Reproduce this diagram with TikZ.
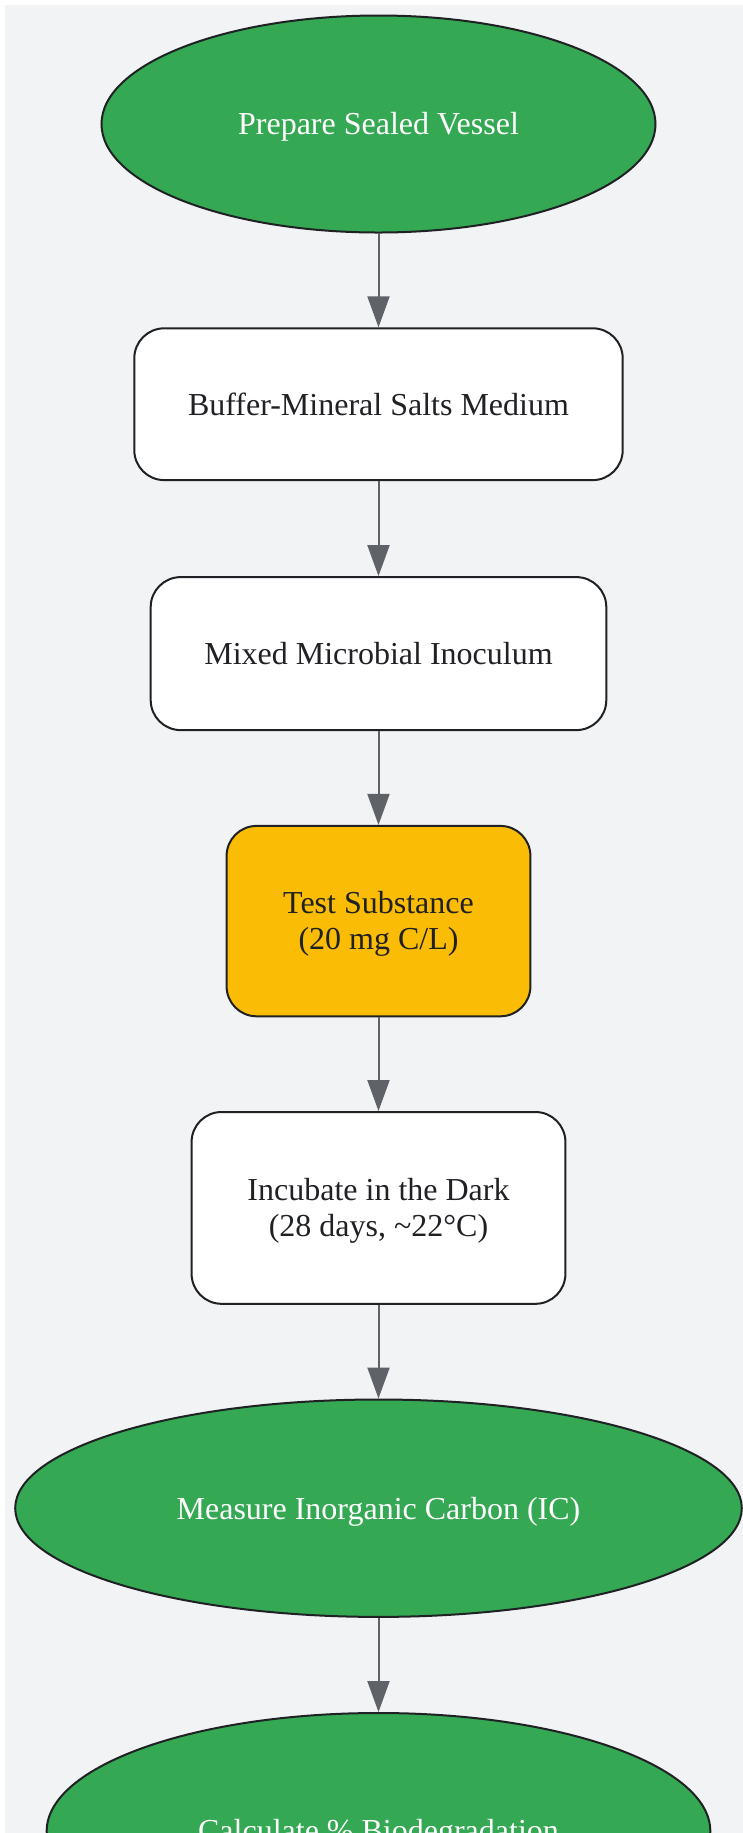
\documentclass[tikz,border=0pt]{standalone}
\usepackage{fontspec}
\setmainfont{Liberation Serif}
\usetikzlibrary{shapes.geometric,arrows.meta}
\definecolor{bgc}{HTML}{F1F3F4}
\definecolor{greenc}{HTML}{34A853}
\definecolor{yellowc}{HTML}{FBBC05}
\definecolor{edgec}{HTML}{5F6368}
\definecolor{inkc}{HTML}{202124}
\newcommand{\mystrut}{\rule[-0.216em]{0pt}{1.107em}}
\begin{document}
\begin{tikzpicture}[x=0.5pt,y=-0.5pt,
  base/.style={draw=inkc, line width=1pt, inner sep=0pt, align=center,
    font=\fontsize{16}{18}\selectfont},
  oval/.style={base, ellipse, fill=greenc, text=white},
  stepbox/.style={base, rectangle, rounded corners=15pt, fill=white, text=inkc},
  keybox/.style={base, rectangle, rounded corners=15pt, fill=yellowc, text=inkc},
  arr/.style={draw=edgec, line width=1pt, -{Triangle[length=15.5pt,width=11pt]}}]
\useasboundingbox (0,0) rectangle (743,1833);
\fill[bgc] (5,5) rectangle (743,1833);
\node[oval, minimum width=277pt, minimum height=108.5pt] (e1) at (378.5,124) {\mystrut Prepare Sealed Vessel};
\node[stepbox, minimum width=244.2pt, minimum height=75.9pt] (b2) at (378.5,404.2) {\mystrut Buffer-Mineral Salts Medium};
\node[stepbox, minimum width=227.8pt, minimum height=76.5pt] (b3) at (378.5,653.6) {\mystrut Mixed Microbial Inoculum};
\node[keybox, minimum width=151.9pt, minimum height=95.2pt] (b4) at (378.5,921.1) {\mystrut Test Substance\\\mystrut (20 mg C/L)};
\node[stepbox, minimum width=186.9pt, minimum height=95.9pt] (b5) at (378.5,1207.9) {\mystrut Incubate in the Dark\\\mystrut (28 days, \textasciitilde22°C)};
\node[oval, minimum width=363.3pt, minimum height=108.7pt] (e6) at (378.5,1508.2) {\mystrut Measure Inorganic Carbon (IC)};
\node[oval, minimum width=331.8pt, minimum height=118pt] (e7) at (378.5,1831) {\mystrut Calculate \% Biodegradation};
\draw[arr] (e1) -- (b2);
\draw[arr] (b2) -- (b3);
\draw[arr] (b3) -- (b4);
\draw[arr] (b4) -- (b5);
\draw[arr] (b5) -- (e6);
\draw[arr] (e6) -- (e7);
\end{tikzpicture}
\end{document}
